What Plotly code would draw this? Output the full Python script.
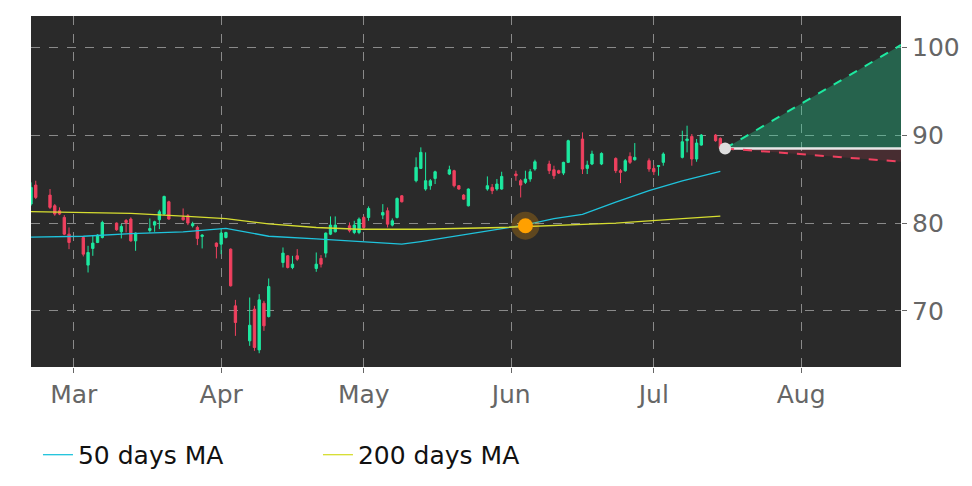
import plotly.graph_objects as go

dates = ["2025-02-20","2025-02-21","2025-02-24","2025-02-25","2025-02-26","2025-02-27","2025-02-28",
"2025-03-03","2025-03-04","2025-03-05","2025-03-06","2025-03-07","2025-03-10","2025-03-11","2025-03-12","2025-03-13","2025-03-14",
"2025-03-17","2025-03-18","2025-03-19","2025-03-20","2025-03-21","2025-03-24","2025-03-25","2025-03-26","2025-03-27","2025-03-28",
"2025-03-31","2025-04-01","2025-04-02","2025-04-03","2025-04-04","2025-04-07","2025-04-08","2025-04-09","2025-04-10","2025-04-11",
"2025-04-14","2025-04-15","2025-04-16","2025-04-17","2025-04-21","2025-04-22","2025-04-23","2025-04-24","2025-04-25",
"2025-04-28","2025-04-29","2025-04-30","2025-05-01","2025-05-02","2025-05-05","2025-05-06","2025-05-07","2025-05-08","2025-05-09",
"2025-05-12","2025-05-13","2025-05-14","2025-05-15","2025-05-16","2025-05-19","2025-05-20","2025-05-21","2025-05-22","2025-05-23",
"2025-05-27","2025-05-28","2025-05-29","2025-05-30","2025-06-02","2025-06-03","2025-06-04","2025-06-05","2025-06-06",
"2025-06-09","2025-06-10","2025-06-11","2025-06-12","2025-06-13","2025-06-16","2025-06-17","2025-06-18","2025-06-20",
"2025-06-23","2025-06-24","2025-06-25","2025-06-26","2025-06-27","2025-06-30","2025-07-01","2025-07-02","2025-07-03",
"2025-07-07","2025-07-08","2025-07-09","2025-07-10","2025-07-11","2025-07-14","2025-07-15"]
opens = [82.17,84.33,83.19,81.98,81.41,80.65,78.74,78.36,75.21,77.11,77.79,78.36,80.0,79.01,80.3,80.46,77.98,
79.16,79.77,80.38,81.03,82.43,80.65,80.84,79.7,79.5,78.48,77.72,77.6,78.36,77.03,70.57,66.58,70.19,65.55,70.87,69.35,
75.51,76.27,74.94,76.27,74.83,75.97,76.58,78.74,79.01,
79.69,78.93,78.93,80.64,80.64,80.91,81.4,79.77,80.64,83.11,84.83,86.23,83.88,84.26,85.09,85.59,85.97,84.26,83.19,81.97,
83.88,84.07,83.88,83.88,85.59,84.83,84.64,85.02,86.16,86.73,86.08,85.97,85.7,86.92,89.58,86.23,86.73,86.73,
87.37,85.97,85.97,87.6,87.22,87.11,86.23,86.46,86.92,87.49,89.39,89.88,87.3,88.89,90.03,89.65]
closes = [84.07,82.93,81.79,81.03,81.03,78.74,77.79,76.46,76.65,77.72,78.63,80.07,79.24,79.62,80.07,77.98,78.86,
79.39,80.15,81.29,83.04,80.46,80.38,80.0,79.92,78.25,78.63,77.34,78.86,78.93,72.85,68.67,68.36,65.82,71.25,68.29,72.77,
76.58,74.94,75.32,75.89,75.32,75.32,78.86,79.77,79.77,
79.12,79.77,80.45,79.5,81.67,81.21,79.88,80.26,82.81,82.43,86.35,88.06,84.83,84.83,85.85,86.08,84.26,83.88,82.73,83.88,
84.26,83.69,84.45,85.32,85.4,84.33,85.02,85.85,86.99,85.97,85.4,85.7,86.92,89.39,86.16,86.61,87.87,87.94,
85.97,85.78,87.11,86.92,87.49,86.16,85.85,86.54,87.87,89.27,89.58,87.3,89.12,90.03,89.39,88.51]
highs = [84.64,84.83,83.88,82.17,81.79,80.91,79.5,78.48,77.41,78.55,78.74,80.27,80.07,79.89,80.46,80.65,78.93,
80.53,80.27,81.52,83.12,82.55,81.67,81.03,80.15,79.7,78.74,77.79,79.39,79.01,77.11,71.25,71.52,70.57,71.9,71.14,73.69,
77.22,76.35,76.27,77.03,76.65,76.35,78.93,80.76,80.76,
80.07,80.26,80.64,80.83,81.9,82.16,81.78,80.53,82.92,83.19,87.49,88.63,88.06,85.02,85.97,86.54,86.08,84.33,83.3,83.95,
85.32,84.45,85.02,85.85,85.97,85.02,85.97,86.16,87.22,87.11,86.54,86.08,86.99,89.5,90.34,87.11,88.25,88.06,
87.49,86.16,87.3,88.06,89.12,87.37,86.61,86.61,88.06,90.53,91.1,90.15,89.58,90.15,90.15,89.77]
lows = [81.98,82.74,81.6,80.84,80.91,78.63,77.03,76.2,74.37,76.27,77.72,78.25,79.12,78.25,78.93,77.87,76.84,
78.93,79.01,79.31,80.91,80.38,80.27,79.77,79.5,77.49,77.11,75.97,76.46,78.25,72.77,67.15,66.01,65.44,65.17,67.72,69.24,
74.94,74.83,74.75,75.7,74.45,74.94,76.08,78.63,78.93,
78.93,78.74,78.74,79.31,80.26,80.45,79.5,79.62,80.53,82.35,84.64,86.16,83.69,83.8,84.45,85.47,84.07,83.8,82.66,81.9,
83.69,83.3,83.69,83.8,84.83,82.92,84.45,84.71,85.97,85.59,85.02,85.59,85.47,86.84,85.59,85.59,86.61,86.61,
85.7,84.56,85.85,86.73,87.11,85.85,85.47,85.4,86.54,87.37,88.06,86.54,86.99,88.82,89.27,88.44]

ma50_dates = ["2025-02-20","2025-03-03","2025-03-13","2025-03-24","2025-04-02","2025-04-11","2025-04-21","2025-04-30",
"2025-05-09","2025-05-13","2025-05-20","2025-05-30","2025-06-04","2025-06-10","2025-06-16","2025-06-23","2025-06-30","2025-07-07","2025-07-15"]
ma50 = [78.4,78.5,78.8,79.0,79.4,78.5,78.2,77.9,77.6,77.9,78.5,79.4,79.8,80.5,81.0,82.4,83.7,84.8,85.9]
ma200_dates = ["2025-02-20","2025-03-13","2025-03-24","2025-04-02","2025-04-11","2025-04-21","2025-04-30","2025-05-13",
"2025-05-30","2025-06-10","2025-06-23","2025-07-07","2025-07-15"]
ma200 = [81.3,81.1,80.8,80.5,79.9,79.5,79.3,79.3,79.5,79.7,80.0,80.5,80.8]

fc_dates = ["2025-07-16","2025-08-22"]
fc_base = [88.5,88.5]
fc_up = [88.5,100.3]
fc_down = [88.5,87.0]
signal_date = ["2025-06-04"]
signal_val = [79.7]

fig = go.Figure()
fig.add_trace(go.Candlestick(x=dates, open=opens, high=highs, low=lows, close=closes,
    increasing=dict(line=dict(color="#1de9a0", width=1), fillcolor="#1de9a0"),
    decreasing=dict(line=dict(color="#f0405f", width=1), fillcolor="#f0405f"),
    showlegend=False, whiskerwidth=0))
fig.add_trace(go.Scatter(x=ma50_dates, y=ma50, mode="lines", name="50 days MA",
    line=dict(color="#1fc3dc", width=1.3)))
fig.add_trace(go.Scatter(x=ma200_dates, y=ma200, mode="lines", name="200 days MA",
    line=dict(color="#d6dd30", width=1.3)))
fig.add_trace(go.Scatter(x=fc_dates, y=fc_base, mode="lines", line=dict(color="#e8e8e8", width=2), showlegend=False))
fig.add_trace(go.Scatter(x=fc_dates, y=fc_up, mode="lines", fill="tonexty", fillcolor="rgba(29,233,160,0.3)",
    line=dict(color="#1de9a0", width=2, dash="dash"), showlegend=False))
fig.add_trace(go.Scatter(x=fc_dates, y=fc_base, mode="lines", line=dict(color="#e8e8e8", width=2), showlegend=False))
fig.add_trace(go.Scatter(x=fc_dates, y=fc_down, mode="lines", fill="tonexty", fillcolor="rgba(240,64,95,0.15)",
    line=dict(color="#f0405f", width=2, dash="dash"), showlegend=False))
fig.add_trace(go.Scatter(x=fc_dates[:1], y=fc_base[:1], mode="markers", marker=dict(color="#dddddd", size=12), showlegend=False))
fig.add_trace(go.Scatter(x=signal_date, y=signal_val, mode="markers",
    marker=dict(color="rgba(255,160,0,0.25)", size=28), showlegend=False))
fig.add_trace(go.Scatter(x=signal_date, y=signal_val, mode="markers",
    marker=dict(color="#ffa000", size=15), showlegend=False))

fig.update_layout(
    width=972, height=486, margin=dict(l=23, r=79, t=8, b=127, autoexpand=False),
    paper_bgcolor="white", plot_bgcolor="#2a2a2a",
    font=dict(family="DejaVu Sans", size=25, color="#666666"),
    legend=dict(orientation="h", x=0.008, y=-0.185, xanchor="left", yanchor="top", traceorder="normal",
                font=dict(size=25, color="#111111"), entrywidth=235, entrywidthmode="pixels"),
    xaxis=dict(type="date", range=["2025-02-20", "2025-08-22"], rangeslider=dict(visible=False), automargin=False,
               showgrid=True, gridcolor="#8a8a8a", griddash="dash", gridwidth=1,
               tickvals=["2025-03-01","2025-04-01","2025-05-01","2025-06-01","2025-07-01","2025-08-01"],
               ticktext=["Mar","Apr","May","Jun","Jul","Aug"], ticks="outside", ticklen=5, tickcolor="#666",
               zeroline=False),
    yaxis=dict(side="right", range=[63.6, 103.6], tickvals=[70, 80, 90, 100], automargin=False,
               showgrid=True, gridcolor="#8a8a8a", griddash="dash", gridwidth=1,
               ticks="outside", ticklen=5, tickcolor="#666", zeroline=False),
)
fig.write_html("out.html")
